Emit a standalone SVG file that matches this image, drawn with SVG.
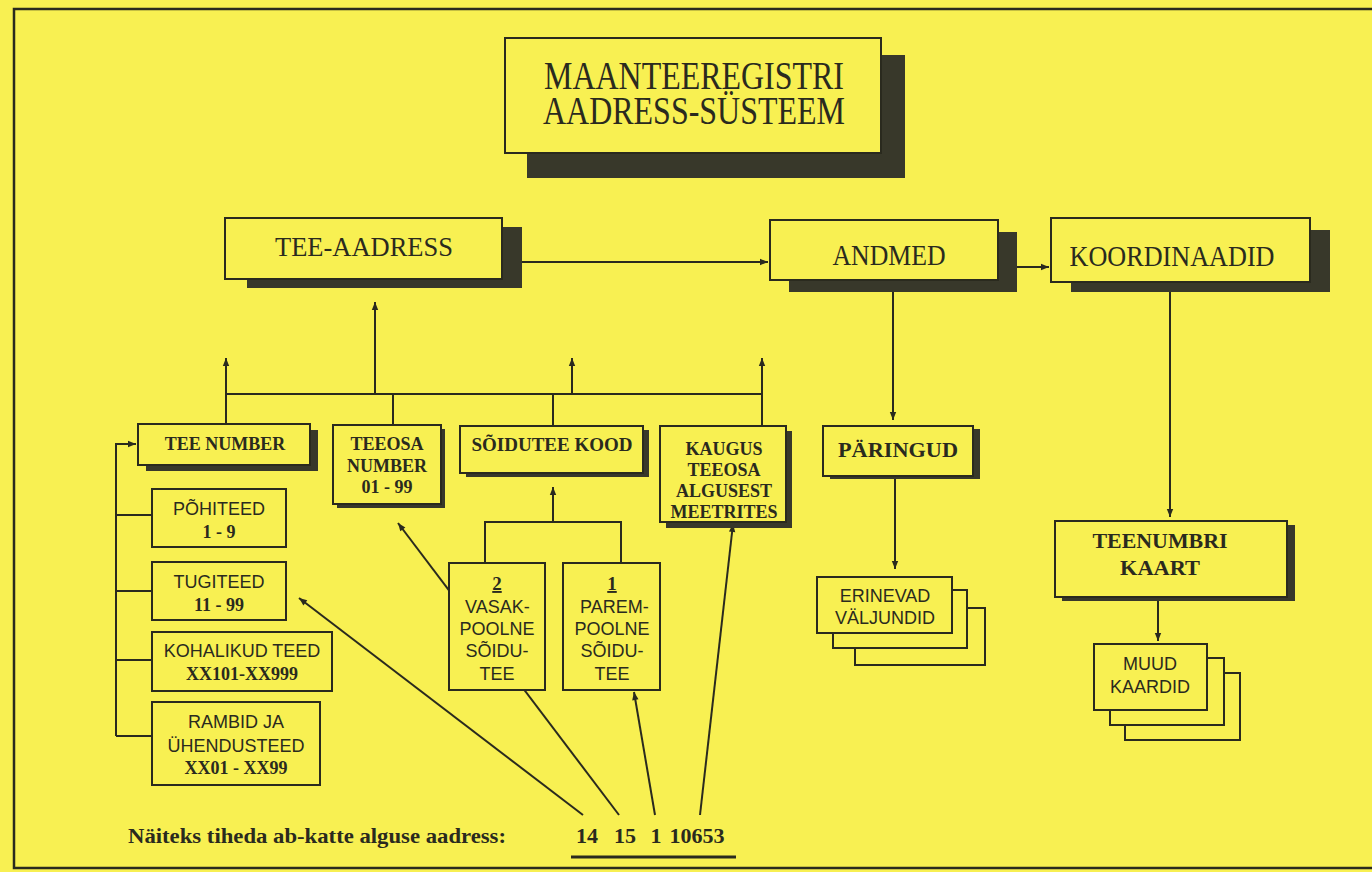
<svg xmlns="http://www.w3.org/2000/svg" width="1372" height="872" viewBox="0 0 1372 872">
<style>
.box{fill:#f8f052;stroke:#2a2a1e;stroke-width:2}
.sh{fill:#38382a}
.ln{stroke:#2a2a1e;stroke-width:2;fill:none}
.sf{font-family:"Liberation Serif",serif;fill:#2a2a1e}
.ss{font-family:"Liberation Sans",sans-serif;fill:#2a2a1e}
.b{font-weight:bold}
.m{text-anchor:middle}
</style>
<defs>
<marker id="ah" viewBox="0 0 10 10" refX="10" refY="5" markerWidth="9" markerHeight="8" orient="auto" markerUnits="userSpaceOnUse"><path d="M0,1 L10,5 L0,9z" fill="#2a2a1e"/></marker>
</defs>
<rect x="0" y="0" width="1372" height="872" fill="#f8f052"/>
<rect x="14" y="9" width="1380" height="859" fill="none" stroke="#2a2a1e" stroke-width="2.5"/>

<g id="connectors">
<path class="ln" d="M502,262 H768" marker-end="url(#ah)"/>
<path class="ln" d="M1017,267 H1049" marker-end="url(#ah)"/>
<path class="ln" d="M893,292 V420" marker-end="url(#ah)"/>
<path class="ln" d="M895,479 V569" marker-end="url(#ah)"/>
<path class="ln" d="M1170,292 V517" marker-end="url(#ah)"/>
<path class="ln" d="M1158,600 V641" marker-end="url(#ah)"/>
<path class="ln" d="M226,394 H762"/>
<path class="ln" d="M226,424 V358" marker-end="url(#ah)"/>
<path class="ln" d="M393,425 V394"/>
<path class="ln" d="M553,426 V394"/>
<path class="ln" d="M762,426 V358" marker-end="url(#ah)"/>
<path class="ln" d="M375,394 V302" marker-end="url(#ah)"/>
<path class="ln" d="M572,394 V358" marker-end="url(#ah)"/>
<path class="ln" d="M116,736 V444 H136" marker-end="url(#ah)"/>
<path class="ln" d="M116,515 H152 M116,591 H152 M116,660 H152 M116,736 H152"/>
<path class="ln" d="M553,522 V487" marker-end="url(#ah)"/>
<path class="ln" d="M485,563 V522 H621 V563"/>
<path class="ln" d="M583,815 L299,598" marker-end="url(#ah)"/>
<path class="ln" d="M619,815 L398,523" marker-end="url(#ah)"/>
<path class="ln" d="M655,815 L634,692" marker-end="url(#ah)"/>
<path class="ln" d="M700,815 L733,524" marker-end="url(#ah)"/>
<path d="M571,857 H736" stroke="#2a2a1e" stroke-width="3"/>
</g>

<g id="title">
<rect class="sh" x="527" y="55" width="378" height="123"/>
<rect class="box" x="505" y="38" width="376" height="115" stroke-width="3"/>
<text class="sf m" x="694" y="89" font-size="39" textLength="300" lengthAdjust="spacingAndGlyphs">MAANTEEREGISTRI</text>
<text class="sf m" x="694" y="124" font-size="39" textLength="302" lengthAdjust="spacingAndGlyphs">AADRESS-SÜSTEEM</text>
</g>

<g id="tee-aadress">
<rect class="sh" x="247" y="227" width="275" height="61"/>
<rect class="box" x="225" y="218" width="277" height="61"/>
<text class="sf m" x="364" y="256" font-size="28" textLength="178" lengthAdjust="spacingAndGlyphs">TEE-AADRESS</text>
</g>

<g id="andmed">
<rect class="sh" x="789" y="232" width="228" height="60"/>
<rect class="box" x="770" y="220" width="228" height="60"/>
<text class="sf m" x="889" y="265" font-size="30" textLength="113" lengthAdjust="spacingAndGlyphs">ANDMED</text>
</g>

<g id="koordinaadid">
<rect class="sh" x="1071" y="230" width="259" height="62"/>
<rect class="box" x="1051" y="218" width="259" height="64"/>
<text class="sf m" x="1172" y="266" font-size="30" textLength="205" lengthAdjust="spacingAndGlyphs">KOORDINAADID</text>
</g>

<g id="tee-number">
<rect class="sh" x="146" y="430" width="172" height="41"/>
<rect class="box" x="138" y="424" width="172" height="41"/>
<text class="sf b m" x="225" y="450" font-size="18">TEE NUMBER</text>
</g>

<g id="teeosa-number">
<rect class="sh" x="337" y="429" width="108" height="79"/>
<rect class="box" x="333" y="425" width="108" height="79"/>
<text class="sf b m" x="387" y="450" font-size="18">TEEOSA</text>
<text class="sf b m" x="387" y="472" font-size="18">NUMBER</text>
<text class="sf b m" x="387" y="493" font-size="18">01 - 99</text>
</g>

<g id="soidutee-kood">
<rect class="sh" x="466" y="430" width="183" height="47"/>
<rect class="box" x="460" y="426" width="183" height="47"/>
<text class="sf b m" x="552" y="451" font-size="19">SÕIDUTEE KOOD</text>
</g>

<g id="kaugus">
<rect class="sh" x="666" y="431" width="126" height="97"/>
<rect class="box" x="660" y="426" width="126" height="96"/>
<text class="sf b m" x="724" y="455" font-size="18">KAUGUS</text>
<text class="sf b m" x="724" y="476" font-size="18">TEEOSA</text>
<text class="sf b m" x="724" y="497" font-size="18">ALGUSEST</text>
<text class="sf b m" x="724" y="518" font-size="18">MEETRITES</text>
</g>

<g id="paringud">
<rect class="sh" x="830" y="429" width="150" height="50"/>
<rect class="box" x="823" y="426" width="150" height="50"/>
<text class="sf b m" x="898" y="457" font-size="20" textLength="120" lengthAdjust="spacingAndGlyphs">PÄRINGUD</text>
</g>

<g id="teenumbri-kaart">
<rect class="sh" x="1062" y="525" width="233" height="76"/>
<rect class="box" x="1055" y="521" width="232" height="76"/>
<text class="sf b m" x="1160" y="548" font-size="20" textLength="135" lengthAdjust="spacingAndGlyphs">TEENUMBRI</text>
<text class="sf b m" x="1160" y="575" font-size="20" textLength="80" lengthAdjust="spacingAndGlyphs">KAART</text>
</g>

<g id="pohiteed">
<rect class="box" x="152" y="489" width="134" height="58"/>
<text class="ss m" x="219" y="515" font-size="18">PÕHITEED</text>
<text class="sf b m" x="219" y="538" font-size="18">1 - 9</text>
</g>

<g id="tugiteed">
<rect class="box" x="152" y="562" width="134" height="58"/>
<text class="ss m" x="219" y="588" font-size="18">TUGITEED</text>
<text class="sf b m" x="219" y="611" font-size="18">11 - 99</text>
</g>

<g id="kohalikud-teed">
<rect class="box" x="152" y="632" width="180" height="59"/>
<text class="ss m" x="242" y="657" font-size="18">KOHALIKUD TEED</text>
<text class="sf b m" x="242" y="680" font-size="18">XX101-XX999</text>
</g>

<g id="rambid">
<rect class="box" x="152" y="702" width="168" height="83"/>
<text class="ss m" x="236" y="728" font-size="18">RAMBID JA</text>
<text class="ss m" x="236" y="752" font-size="18">ÜHENDUSTEED</text>
<text class="sf b m" x="236" y="774" font-size="18">XX01 - XX99</text>
</g>

<g id="vasak">
<rect class="box" x="449" y="563" width="96" height="127"/>
<text class="sf b m" x="497" y="590" font-size="19" text-decoration="underline">2</text>
<text class="ss" x="465" y="613" font-size="18">VASAK-</text>
<text class="ss m" x="497" y="635" font-size="18">POOLNE</text>
<text class="ss m" x="497" y="657" font-size="18">SÕIDU-</text>
<text class="ss m" x="497" y="680" font-size="18">TEE</text>
</g>

<g id="parem">
<rect class="box" x="563" y="563" width="97" height="127"/>
<text class="sf b m" x="612" y="590" font-size="19" text-decoration="underline">1</text>
<text class="ss" x="580" y="613" font-size="18">PAREM-</text>
<text class="ss m" x="612" y="635" font-size="18">POOLNE</text>
<text class="ss m" x="612" y="657" font-size="18">SÕIDU-</text>
<text class="ss m" x="612" y="680" font-size="18">TEE</text>
</g>

<g id="erinevad-valjundid">
<rect class="box" x="855" y="608" width="130" height="57"/>
<rect class="box" x="833" y="590" width="134" height="58"/>
<rect class="box" x="817" y="577" width="135" height="56"/>
<text class="ss m" x="885" y="602" font-size="18">ERINEVAD</text>
<text class="ss m" x="885" y="624" font-size="18">VÄLJUNDID</text>
</g>

<g id="muud-kaardid">
<rect class="box" x="1125" y="673" width="115" height="67"/>
<rect class="box" x="1110" y="658" width="114" height="67"/>
<rect class="box" x="1094" y="644" width="113" height="66"/>
<text class="ss m" x="1150" y="670" font-size="18">MUUD</text>
<text class="ss m" x="1150" y="693" font-size="18">KAARDID</text>
</g>

<g id="example">
<text class="sf b" x="128" y="843" font-size="21" textLength="378" lengthAdjust="spacingAndGlyphs">Näiteks tiheda ab-katte alguse aadress:</text>
<text class="sf b m" x="587" y="843" font-size="22">14</text>
<text class="sf b m" x="625" y="843" font-size="22">15</text>
<text class="sf b m" x="656" y="843" font-size="22">1</text>
<text class="sf b m" x="697" y="843" font-size="22">10653</text>
</g>
</svg>
